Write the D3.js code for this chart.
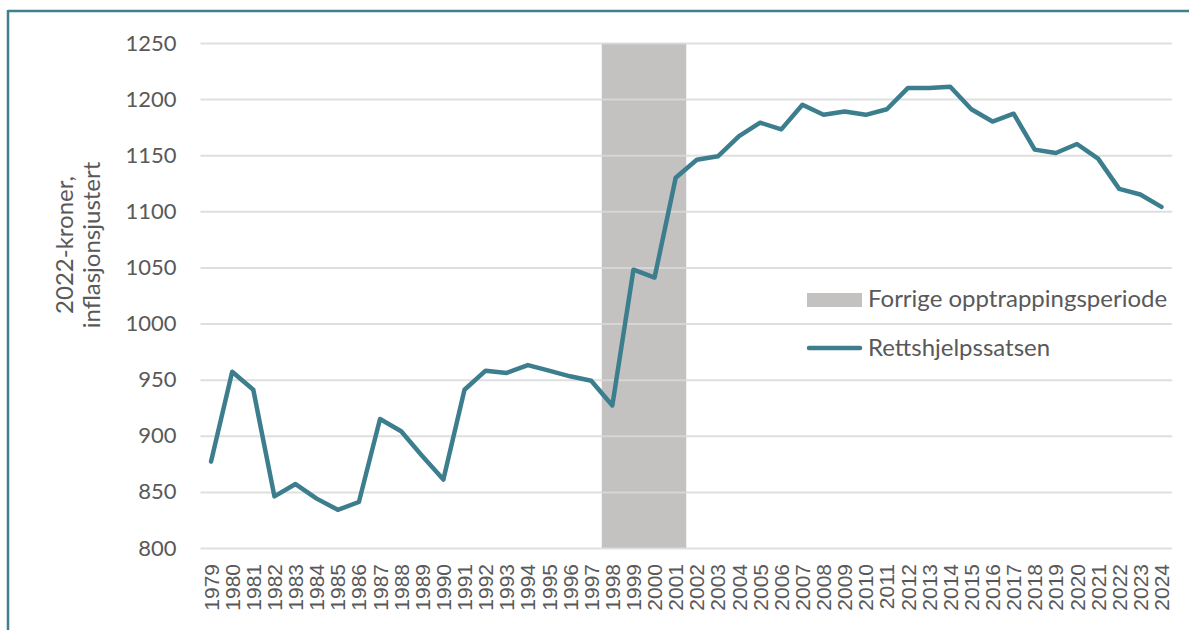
<!DOCTYPE html>
<html>
<head>
<meta charset="utf-8">
<script src="https://cdn.jsdelivr.net/npm/d3@7"></script>
<style>
  html, body { margin: 0; padding: 0; background: #ffffff; }
  svg { display: block; }
</style>
</head>
<body>
<svg id="chart" width="1189" height="630"></svg>
<script>
// ---- data ----
const years = ["1979","1980","1981","1982","1983","1984","1985","1986","1987","1988",
  "1989","1990","1991","1992","1993","1994","1995","1996","1997","1998",
  "1999","2000","2001","2002","2003","2004","2005","2006","2007","2008",
  "2009","2010","2011","2012","2013","2014","2015","2016","2017","2018",
  "2019","2020","2021","2022","2023","2024"];
const rettshjelpssatsen = [877, 957, 941, 846, 857, 844, 834, 841, 915, 904,
  882, 861, 941, 958, 956, 963, 958, 953, 949, 927,
  1048, 1041, 1130, 1146, 1149, 1167, 1179, 1173, 1195, 1186,
  1189, 1186, 1191, 1210, 1210, 1211, 1191, 1180, 1187, 1155,
  1152, 1160, 1147, 1120, 1115, 1104];
const periodYears = ["1998","1999","2000","2001"];
const yTicks = [800, 850, 900, 950, 1000, 1050, 1100, 1150, 1200, 1250];
const seriesNames = ["Forrige opptrappingsperiode", "Rettshjelpssatsen"];
const yTitle = ["2022-kroner,", "inflasjonsjustert"];

// ---- layout ----
const W = 1189, H = 630;
const plot = { left: 200.5, right: 1172, top: 43, bottom: 548 };
const teal = "#3c7e8d";
const grey = "#c3c2c1";
const textCol = "#595959";
const calibriLike = "Lato, 'Open Sans', sans-serif";

const svg = d3.select("#chart");

// frame border (top and left)
svg.append("line").attr("x1", 8).attr("x2", W).attr("y1", 11).attr("y2", 11)
  .attr("stroke", "#3f7f8e").attr("stroke-width", 2.5);
svg.append("line").attr("x1", 8).attr("x2", 8).attr("y1", 10).attr("y2", H)
  .attr("stroke", "#3f7f8e").attr("stroke-width", 2.5);

const x = d3.scaleBand().domain(years).range([plot.left, plot.right]).padding(0);
const y = d3.scaleLinear().domain([800, 1250]).range([plot.bottom, plot.top]);

// period band
const bandStart = x(periodYears[0]);
const bandEnd = x(periodYears[periodYears.length - 1]) + x.bandwidth();
svg.append("rect")
  .attr("x", bandStart).attr("y", y(1250))
  .attr("width", bandEnd - bandStart).attr("height", y(800) - y(1250))
  .attr("fill", grey);

// gridlines + y axis labels
const yAxis = d3.axisLeft(y).tickValues(yTicks).tickFormat(d3.format("d"))
  .tickSize(-(plot.right - plot.left)).tickPadding(24);
const gy = svg.append("g").attr("transform", `translate(${plot.left},0)`).call(yAxis);
gy.select(".domain").remove();
gy.selectAll(".tick line").attr("stroke", "#d9d9d9").attr("stroke-width", 2).attr("stroke-opacity", 0.85);
gy.selectAll(".tick text")
  .attr("fill", textCol)
  .style("font-family", calibriLike)
  .style("font-size", "22px");

// x axis labels
const xAxis = d3.axisBottom(x).tickSize(0).tickPadding(0);
const gx = svg.append("g").attr("transform", `translate(0,${plot.bottom})`).call(xAxis);
gx.select(".domain").remove();
gx.selectAll(".tick text")
  .attr("fill", textCol)
  .style("font-family", "'Liberation Sans', Arial, sans-serif")
  .style("font-size", "21px")
  .attr("text-anchor", "end")
  .attr("transform", "rotate(-90)")
  .attr("x", -16)
  .attr("y", 0)
  .attr("dy", "0.36em");

// line
const line = d3.line()
  .x((d, i) => x(years[i]) + x.bandwidth() / 2)
  .y(d => y(d));
svg.append("path")
  .datum(rettshjelpssatsen)
  .attr("d", line)
  .attr("fill", "none")
  .attr("stroke", teal)
  .attr("stroke-width", 4.5)
  .attr("stroke-linejoin", "round")
  .attr("stroke-linecap", "round");

// y axis title
const yt = svg.append("text")
  .attr("transform", "translate(80,245) rotate(-90)")
  .attr("text-anchor", "middle")
  .attr("fill", textCol)
  .style("font-family", calibriLike)
  .style("font-size", "24px");
yt.append("tspan").attr("x", 0).attr("dy", "-0.3em").text(yTitle[0]);
yt.append("tspan").attr("x", 0).attr("dy", "1.15em").text(yTitle[1]);

// legend
const leg = svg.append("g").attr("transform", "translate(807,0)");
leg.append("rect").attr("x", 0).attr("y", 293).attr("width", 55).attr("height", 14).attr("fill", grey);
leg.append("text").attr("x", 61).attr("y", 307).text(seriesNames[0])
  .attr("fill", textCol).style("font-family", calibriLike).style("font-size", "24px");
leg.append("line").attr("x1", 2).attr("x2", 53).attr("y1", 348).attr("y2", 348)
  .attr("stroke", teal).attr("stroke-width", 4.5).attr("stroke-linecap", "round");
leg.append("text").attr("x", 61).attr("y", 356).text(seriesNames[1])
  .attr("fill", textCol).style("font-family", calibriLike).style("font-size", "24px");
</script>
</body>
</html>
